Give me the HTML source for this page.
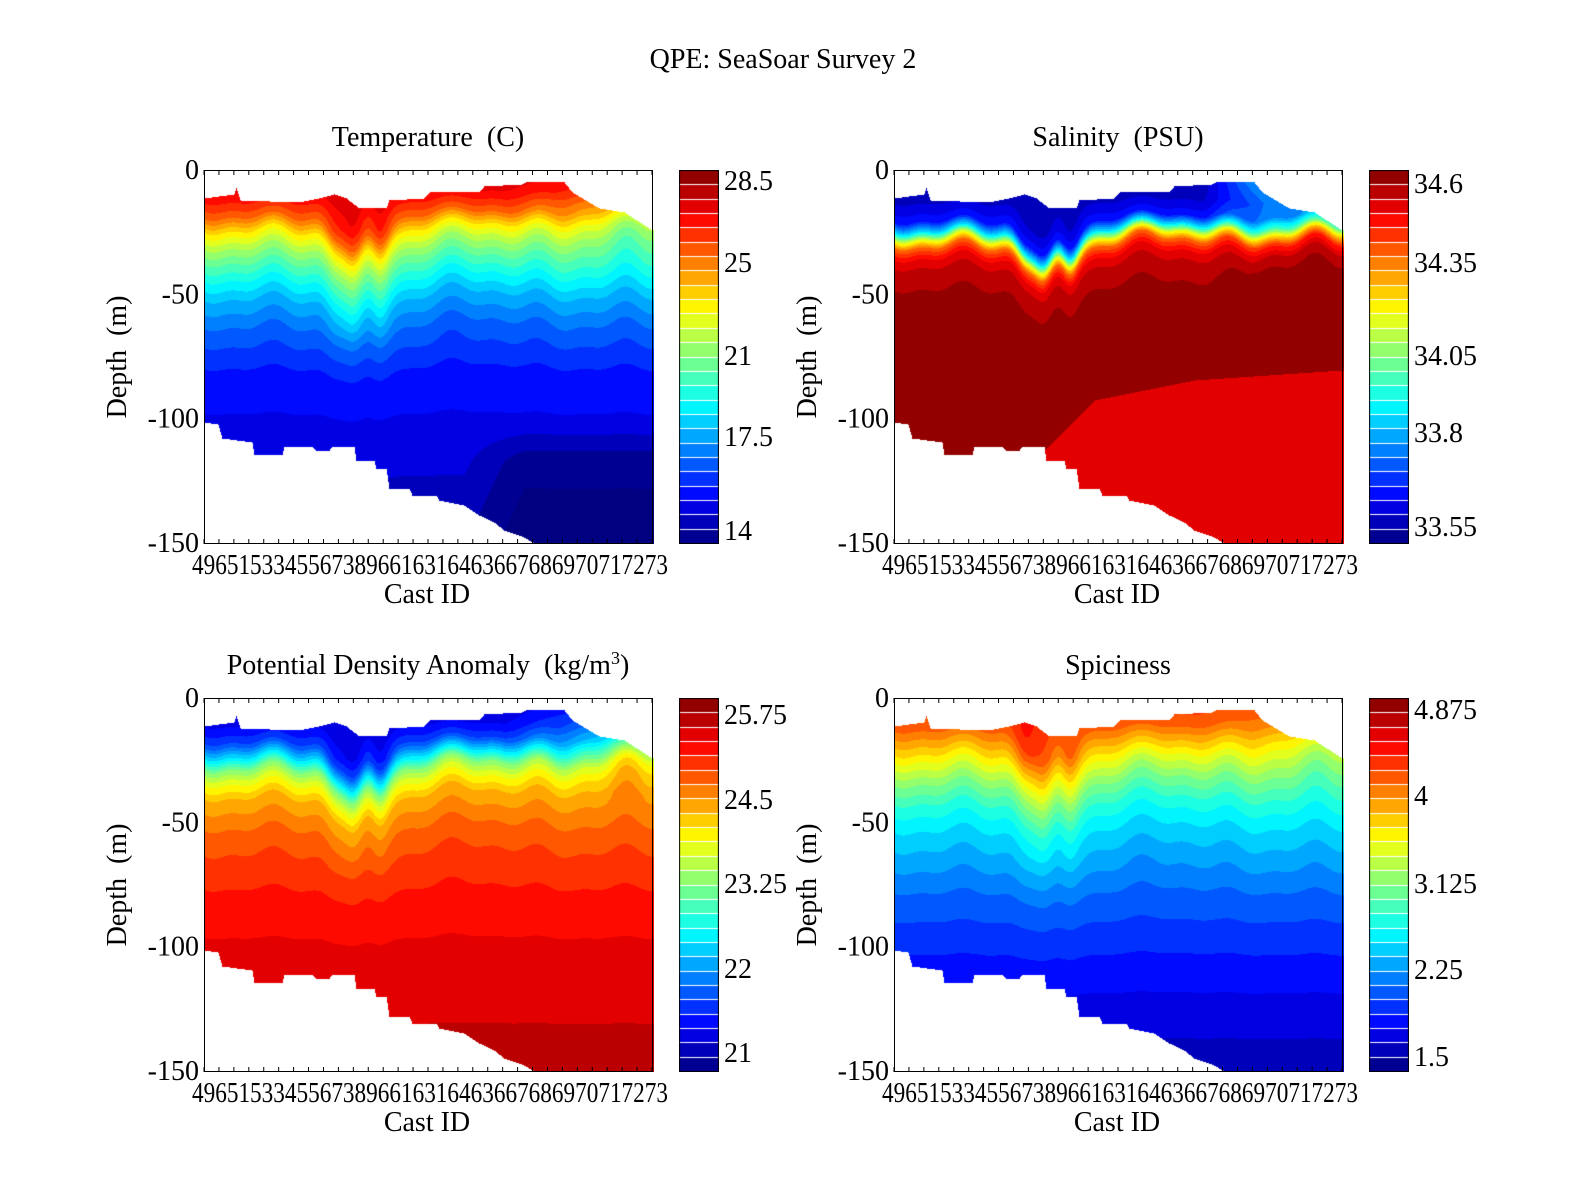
<!DOCTYPE html>
<html><head><meta charset="utf-8"><style>
html,body{margin:0;padding:0;background:#fff;width:1575px;height:1200px;overflow:hidden}
canvas{position:absolute}
svg{position:absolute;left:0;top:0}
text{font-family:"Liberation Serif",serif;fill:#000}
</style></head><body>
<canvas id="c0" width="450" height="374" style="left:204px;top:170px"></canvas>
<canvas id="c1" width="450" height="374" style="left:894px;top:170px"></canvas>
<canvas id="c2" width="450" height="374" style="left:204px;top:698px"></canvas>
<canvas id="c3" width="450" height="374" style="left:894px;top:698px"></canvas>
<canvas id="b0" width="40" height="374" style="left:679px;top:170px"></canvas>
<canvas id="b1" width="40" height="374" style="left:1369px;top:170px"></canvas>
<canvas id="b2" width="40" height="374" style="left:679px;top:698px"></canvas>
<canvas id="b3" width="40" height="374" style="left:1369px;top:698px"></canvas>
<svg width="1575" height="1200" id="s">
<text x="783" y="68" font-size="28" text-anchor="middle">QPE: SeaSoar Survey 2</text>
<text x="428" y="146" font-size="28" text-anchor="middle">Temperature&#160; (C)</text>
<text x="1118" y="146" font-size="28" text-anchor="middle">Salinity&#160; (PSU)</text>
<text x="428" y="674" font-size="28" text-anchor="middle">Potential Density Anomaly&#160; (kg/m<tspan dy="-10" font-size="18">3</tspan><tspan dy="10">)</tspan></text>
<text x="1118" y="674" font-size="28" text-anchor="middle">Spiciness</text>
<g font-size="28">
<text x="724" y="190">28.5</text><text x="724" y="272">25</text><text x="724" y="365">21</text><text x="724" y="446">17.5</text><text x="724" y="540">14</text>
<text x="1414" y="193">34.6</text><text x="1414" y="272">34.35</text><text x="1414" y="365">34.05</text><text x="1414" y="442">33.8</text><text x="1414" y="536">33.55</text>
<text x="724" y="724">25.75</text><text x="724" y="809">24.5</text><text x="724" y="893">23.25</text><text x="724" y="978">22</text><text x="724" y="1062">21</text>
<text x="1414" y="719">4.875</text><text x="1414" y="805">4</text><text x="1414" y="893">3.125</text><text x="1414" y="979">2.25</text><text x="1414" y="1066">1.5</text>
</g>
<g id="axes"></g>
</svg>
<script>
function jet(t){t=Math.max(0,Math.min(1,t));function c(v){return Math.max(0,Math.min(1,v));}
return [c(1.5-Math.abs(4*t-3))*255,c(1.5-Math.abs(4*t-2))*255,c(1.5-Math.abs(4*t-1))*255];}
function interp(pts,x){if(x<=pts[0][0])return pts[0][1];for(var i=1;i<pts.length;i++){if(x<=pts[i][0]){var a=pts[i-1],b=pts[i];return a[1]+(b[1]-a[1])*(x-a[0])/(b[0]-a[0]);}}return pts[pts.length-1][1];}
var TOP=[[0,28],[30,24],[32,18],[36,30],[95,32],[115,28],[130,24],[142,28],[155,38],[182,38],[185,30],[220,28],[226,22],[275,22],[280,16],[318,14],[322,12],[360,12],[368,22],[395,38],[420,42],[448,60]];
var BOT=[[0,252],[14,254],[18,268],[48,272],[50,284],[78,284],[80,276],[108,276],[112,280],[125,280],[128,276],[150,276],[152,290],[170,290],[172,298],[182,298],[185,318],[205,318],[208,325],[232,325],[235,330],[260,335],[275,345],[290,352],[300,360],[318,366],[330,373],[448,373]];
function g(x,m,s){return Math.exp(-(x-m)*(x-m)/(2*s*s));}
function wig(X){return 8*Math.sin(X/14)+5*Math.sin(X/7+1);}
function d(X,Y){var a=Math.min(1,Y/60)*Math.exp(-Math.max(0,Y-160)/60);return a*(40*g(X,150,10)+15*g(X,130,8)+25*g(X,175,8)-12*g(X,270,30)+wig(X)*0.6)+ -10*Math.max(0,(X-300)/148)*(1-Math.min(1,Y/200));}
var P=[
 {prof:[[0,0.93],[25,0.88],[45,0.78],[60,0.65],[75,0.55],[90,0.47],[110,0.38],[130,0.3],[160,0.22],[200,0.15],[250,0.11],[300,0.08],[373,0.04]],
  extra:function(X,Y){return -0.12*Math.max(0,(X-300)/148)*g(Y,40,30)-0.07*Math.max(0,Math.min(1,(X-260)/60))*Math.min(1,Math.max(0,(Y-250)/40));}},
 {prof:[[0,0.04],[35,0.08],[50,0.15],[60,0.35],[68,0.6],[76,0.78],[86,0.88],[100,0.94],[125,0.97],[373,0.97]],
  extra:function(X,Y){var r=0.35*Math.max(0,Math.min(1,(X-310)/60))*Math.exp(-Y/40);var lw=(Y>interp([[150,280],[200,230],[300,210],[448,200]],X)&&X>150)?-0.08:0;return r+lw;}},
 {prof:[[0,0.06],[30,0.12],[45,0.2],[58,0.35],[70,0.5],[82,0.6],[100,0.7],[130,0.77],[170,0.83],[220,0.87],[260,0.9],[373,0.94]],
  extra:function(X,Y){return 0.2*Math.max(0,(X-300)/148)*g(Y,40,30);}},
 {prof:[[0,0.85],[30,0.78],[50,0.68],[65,0.6],[85,0.5],[105,0.42],[125,0.36],[155,0.3],[200,0.22],[250,0.16],[300,0.11],[373,0.05]],
  extra:function(X,Y){return 0.05*g(X,130,10)*g(Y,40,25)-0.08*Math.max(0,(X-300)/148)*g(Y,40,30);}}
];
for(var k=0;k<4;k++){var cv=document.getElementById('c'+k),ctx=cv.getContext('2d'),im=ctx.createImageData(450,374);
 for(var Y=0;Y<374;Y++)for(var X=0;X<450;X++){var i=(Y*450+X)*4;var t=interp(TOP,X),b=interp(BOT,X);
  if(Y<t||Y>b){im.data[i]=im.data[i+1]=im.data[i+2]=255;im.data[i+3]=255;continue;}
  var v=interp(P[k].prof,Y-d(X,Y))+P[k].extra(X,Y);v=Math.floor(v*26)/26+0.5/26;var c=jet(v);
  im.data[i]=c[0];im.data[i+1]=c[1];im.data[i+2]=c[2];im.data[i+3]=255;}
 ctx.putImageData(im,0,0);
 var bc=document.getElementById('b'+k),bx=bc.getContext('2d');
 for(var y=0;y<374;y++){var v=1-y/373;var q=Math.floor(v*26)/26+0.5/26;var c=jet(q);bx.fillStyle='rgb('+c.map(Math.round).join(',')+')';bx.fillRect(0,y,40,1);}
 bx.fillStyle='#fff';for(var j=1;j<26;j++){bx.fillRect(0,Math.round(373*j/26),40,1);}
 bx.strokeStyle='#000';bx.lineWidth=1;bx.strokeRect(0.5,0.5,39,373);}
var ax='';var offs=[[204,170],[894,170],[204,698],[894,698]];
offs.forEach(function(o){var x=o[0],y=o[1];
 ax+='<rect x="'+(x+0.5)+'" y="'+(y+0.5)+'" width="448" height="373" fill="none" stroke="#000"/>';
 for(var j=0;j<31;j++){var tx=x+j*448/30;ax+='<line x1="'+tx+'" y1="'+(y+374)+'" x2="'+tx+'" y2="'+(y+369)+'" stroke="#000"/><line x1="'+tx+'" y1="'+y+'" x2="'+tx+'" y2="'+(y+5)+'" stroke="#000"/>';}
 [0,-50,-100,-150].forEach(function(v,j){var ty=y+j*124.3;ax+='<text x="'+(x-5)+'" y="'+(ty+9)+'" font-size="28" text-anchor="end">'+v+'</text>';});
 ax+='<text x="'+(x-12)+'" y="'+(y+404)+'" font-size="28" textLength="476" lengthAdjust="spacingAndGlyphs">49651533455673896616316463667686970717273</text>';
 ax+='<text x="'+(x+223)+'" y="'+(y+433)+'" font-size="28" text-anchor="middle">Cast ID</text>';
 ax+='<text transform="translate('+(x-78)+','+(y+187)+') rotate(-90)" font-size="28" text-anchor="middle">Depth&#160; (m)</text>';});
document.getElementById('axes').innerHTML=ax;
</script>
</body></html>
